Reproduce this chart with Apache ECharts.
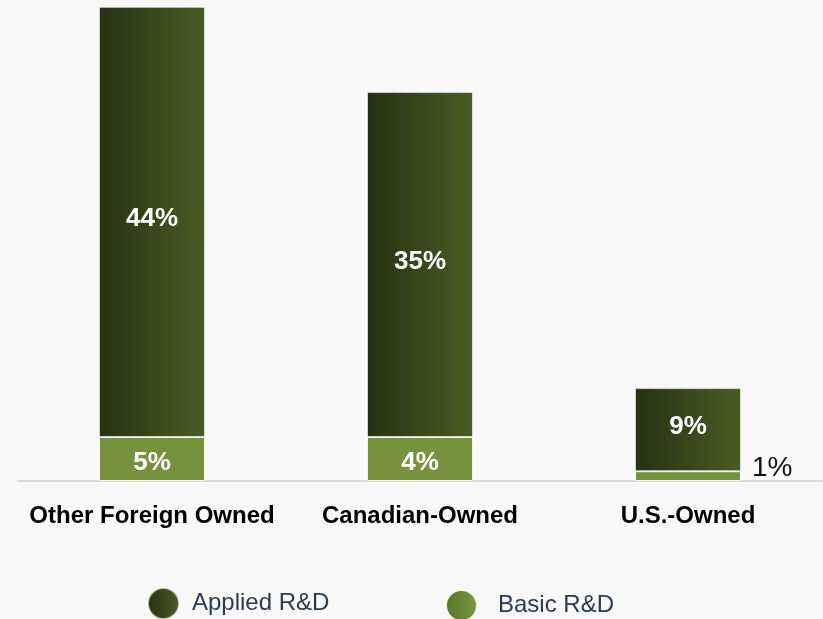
<!DOCTYPE html>
<html>
<head>
<meta charset="utf-8">
<script src="https://cdn.jsdelivr.net/npm/echarts@6/dist/echarts.min.js"></script>
<style>
html,body{margin:0;padding:0;background:#f8f8f8;}
#c{width:823px;height:619px;}
</style>
</head>
<body>
<div id="c"></div>
<script>
var categories = ['Other Foreign Owned', 'Canadian-Owned', 'U.S.-Owned'];
var basicValues = [4.5, 4.5, 1.0];
var appliedValues = [44.0, 35.3, 8.5];
var basicLabels = ['5%', '4%', '1%'];
var appliedLabels = ['44%', '35%', '9%'];

var chart = echarts.init(document.getElementById('c'), null, {renderer: 'canvas'});
var font = '"Liberation Sans", "DejaVu Sans", sans-serif';

var appliedGrad = new echarts.graphic.LinearGradient(0, 0, 1, 0, [
  {offset: 0, color: '#273112'},
  {offset: 1, color: '#4a5c24'}
]);
var basicLegendGrad = new echarts.graphic.LinearGradient(0, 0, 1, 0, [
  {offset: 0, color: '#56752a'},
  {offset: 1, color: '#7b9a3c'}
]);

var basicData = basicValues.map(function (v, i) {
  var item = {value: v};
  if (i === 2) {
    item.label = {position: 'right', distance: 11, color: '#111', fontWeight: 'normal', fontSize: 28, offset: [0, -8]};
  }
  return item;
});

chart.setOption({
  backgroundColor: '#f8f8f8',
  animation: false,
  grid: {left: 18, right: 1, top: 0, bottom: 138},
  legend: [
    {data: [{name: 'Applied R&D', itemStyle: {color: appliedGrad}}], left: 142, top: 582, icon: 'circle', itemWidth: 31, itemHeight: 31, itemGap: 0,
     textStyle: {fontFamily: font, fontSize: 24, color: '#2c3a55', padding: [0, 0, 0, 8]}},
    {data: [{name: 'Basic R&D', itemStyle: {color: basicLegendGrad}}], left: 440, top: 584, icon: 'circle', itemWidth: 31, itemHeight: 31, itemGap: 0,
     textStyle: {fontFamily: font, fontSize: 24, color: '#2c3a55', padding: [0, 0, 0, 16]}}
  ],
  xAxis: {
    type: 'category',
    data: categories,
    axisLine: {show: true, lineStyle: {color: '#d9d9d9', width: 2}},
    axisTick: {show: false},
    axisLabel: {fontFamily: font, fontSize: 24, fontWeight: 'bold', color: '#000', margin: 23, interval: 0}
  },
  yAxis: {type: 'value', min: 0, max: 49.2, show: false, splitLine: {show: false}},
  series: [
    {
      name: 'Basic R&D',
      type: 'bar',
      stack: 'rd',
      barWidth: 106,
      data: basicData,
      itemStyle: {color: '#77923c', borderColor: 'rgba(255,255,255,0.85)', borderWidth: 1},
      label: {show: true, position: 'inside', offset: [0, 4], fontFamily: font, fontSize: 26, fontWeight: 'bold', color: '#fff',
        formatter: function (p) { return basicLabels[p.dataIndex]; }}
    },
    {
      name: 'Applied R&D',
      type: 'bar',
      stack: 'rd',
      barWidth: 106,
      data: appliedValues,
      itemStyle: {color: appliedGrad, borderColor: 'rgba(255,255,255,0.6)', borderWidth: 1},
      label: {show: true, position: 'inside', offset: [0, -3], fontFamily: font, fontSize: 26, fontWeight: 'bold', color: '#fff',
        formatter: function (p) { return appliedLabels[p.dataIndex]; }}
    }
  ]
});
</script>
</body>
</html>
